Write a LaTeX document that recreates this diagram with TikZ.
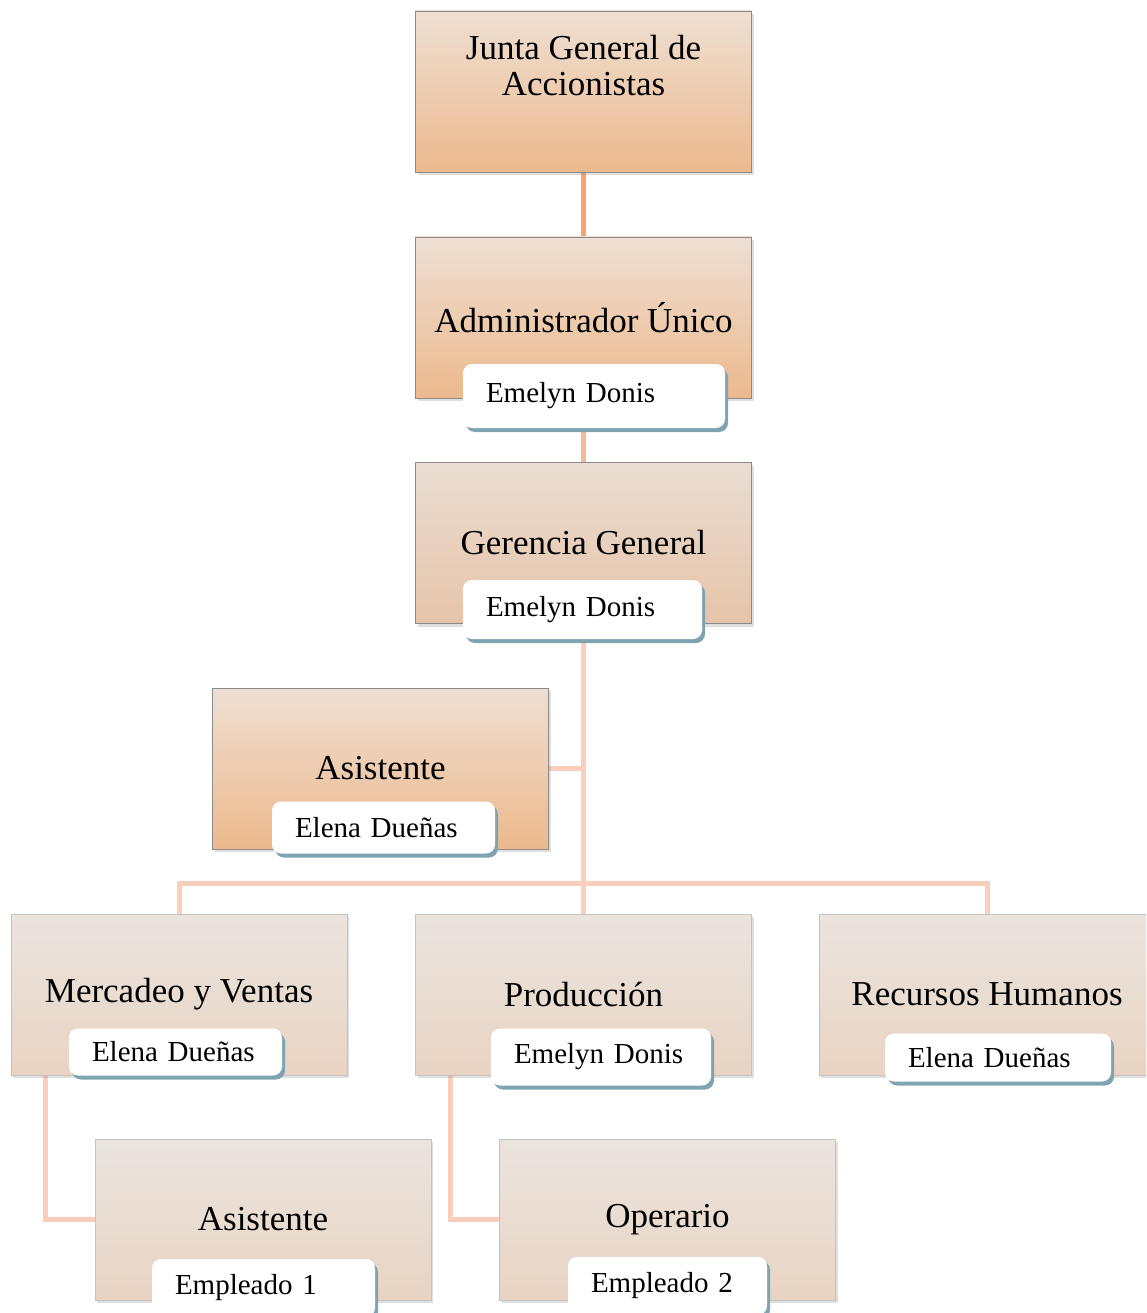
\documentclass[tikz,border=0pt]{standalone}
\usepackage{fontspec}
\setmainfont{Liberation Serif}
\usetikzlibrary{shadows,backgrounds}

\definecolor{naranjaA}{HTML}{EEDFD3}
\definecolor{naranjaB}{HTML}{EDB98D}
\definecolor{medioA}{HTML}{EADDD2}
\definecolor{medioB}{HTML}{E6C4A9}
\definecolor{claroA}{HTML}{EAE4DF}
\definecolor{claroB}{HTML}{E9D4C3}
\definecolor{bordeO}{HTML}{8A8A8A}
\definecolor{bordeC}{HTML}{C9C2BC}
\definecolor{lineaO}{HTML}{F5A572}
\definecolor{lineaM}{HTML}{F7B899}
\definecolor{lineaC}{HTML}{F9CEBA}
\definecolor{sombra}{HTML}{7FA4B1}

\begin{document}
\begin{tikzpicture}[x=1pt,y=-1pt,
  cargo/.style={rectangle,draw=bordeO,line width=0.8pt,minimum width=336,minimum height=161,
    align=center,font=\fontsize{35}{36}\selectfont,
    drop shadow={opacity=0.25,shadow xshift=2pt,shadow yshift=-3pt}},
  naranja/.style={cargo,top color=naranjaA,bottom color=naranjaB},
  medio/.style={cargo,top color=medioA,bottom color=medioB},
  claro/.style={cargo,top color=claroA,bottom color=claroB,draw=bordeC},
  nombre/.style={rectangle,rounded corners=9pt,fill=white,align=left,inner xsep=23pt,inner ysep=0pt,
    font=\fontsize{29}{30}\selectfont,
    drop shadow={fill=sombra,opacity=1,shadow xshift=3pt,shadow yshift=-4pt}},
  enlace/.style={line width=5pt,draw=#1}]
\useasboundingbox (0,0) rectangle (1146,1313);
\clip (0,0) rectangle (1146,1313);

% cargos
\node[naranja,text depth=52pt] (junta) at (583.5,91.5) {Junta General de\\Accionistas};
\node[naranja] (admin) at (583.5,317.5) {Administrador Único};
\node[medio] (gerencia) at (583.5,543) {Gerencia General};
\node[naranja] (asis1) at (380.5,768.5) {Asistente};
\node[claro] (merc) at (179,994.5) {Mercadeo y Ventas};
\node[claro] (prod) at (583.5,994.5) {Producción};
\node[claro] (rh) at (987,994.5) {Recursos Humanos};
\node[claro] (asis2) at (263,1219.5) {Asistente};
\node[claro] (oper) at (667.5,1219.5) {Operario};

% nombres
\node[nombre,text width=216,minimum height=64] (adminN) at (594,396) {Emelyn Donis};
\node[nombre,text width=193,minimum height=59] (gerenciaN) at (582.5,609.5) {Emelyn Donis};
\node[nombre,text width=177,minimum height=52] (asis1N) at (383.5,827.5) {Elena Dueñas};
\node[nombre,text width=167,minimum height=47] (mercN) at (175.5,1052) {Elena Dueñas};
\node[nombre,text width=174,minimum height=57] (prodN) at (601,1057) {Emelyn Donis};
\node[nombre,text width=180,minimum height=48] (rhN) at (998,1057.5) {Elena Dueñas};
\node[nombre,text width=177,minimum height=58] (asis2N) at (263.5,1288) {Empleado 1};
\node[nombre,text width=153,minimum height=58] (operN) at (667.5,1286) {Empleado 2};

\coordinate (bus) at (583.5,883);
\coordinate (mercbaja) at (45,1075);
\coordinate (prodbaja) at (450,1075);

% enlaces
\begin{pgfonlayer}{background}
\draw[enlace=lineaO] (junta) -- (admin);
\draw[enlace=lineaM] (admin) -- (gerencia);
\draw[enlace=lineaC] (gerencia) -- (prod);
\draw[enlace=lineaC] (asis1.east) -- (asis1.east -| gerencia);
\draw[enlace=lineaC] (merc) |- (bus) -| (rh);
\draw[enlace=lineaC] (mercbaja) |- (asis2);
\draw[enlace=lineaC] (prodbaja) |- (oper);
\end{pgfonlayer}
\end{tikzpicture}
\end{document}
